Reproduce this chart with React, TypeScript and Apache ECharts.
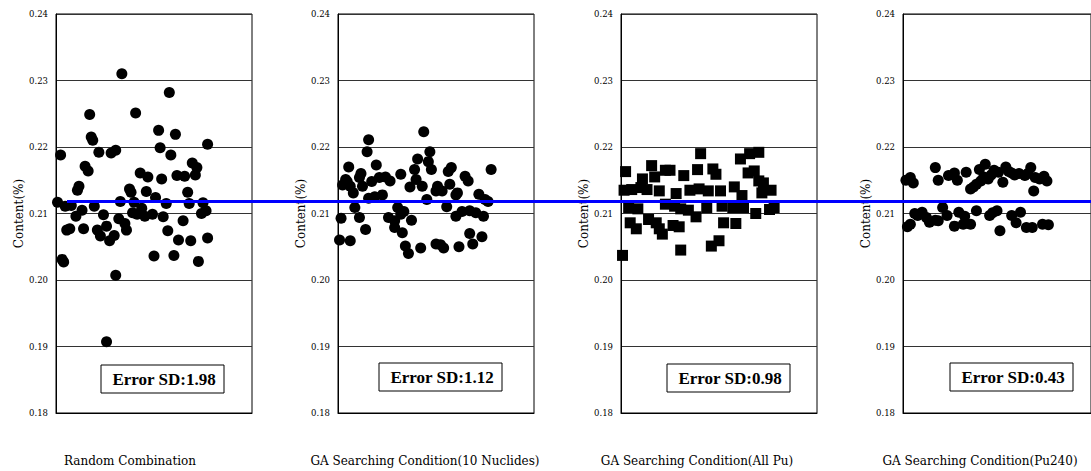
import React, { useEffect, useRef } from "react";
import * as echarts from "echarts";

// ---------- data ----------
const panelNames = [
  "Random Combination",
  "GA Searching Condition(10 Nuclides)",
  "GA Searching Condition(All Pu)",
  "GA Searching Condition(Pu240)",
];
const errorSD = ["1.98", "1.12", "0.98", "0.43"];
const referenceValue = 0.2118;
const yMin = 0.18;
const yMax = 0.24;
const yStep = 0.01;

const randomCombination: number[][] = [
  [43, 0.231], [74, 0.2282], [22, 0.2249], [52, 0.2251], [67, 0.2225], [78, 0.2219], [23, 0.2215], [24, 0.221],
  [99, 0.2204], [3, 0.2188], [28, 0.2192], [36, 0.2191], [39, 0.2195], [68, 0.2199], [75, 0.2188], [19, 0.2171],
  [21, 0.2164], [89, 0.2176], [92, 0.2169], [91, 0.2158], [55, 0.2161], [60, 0.2155], [69, 0.2152], [79, 0.2157],
  [84, 0.2156], [15, 0.2141], [14, 0.2135], [48, 0.2137], [49, 0.2132], [59, 0.2133], [86, 0.2132], [1, 0.2117],
  [6, 0.2111], [10, 0.2112], [42, 0.2118], [51, 0.2117], [65, 0.2124], [72, 0.2115], [96, 0.2116], [87, 0.2115],
  [25, 0.2111], [17, 0.2105], [13, 0.2096], [31, 0.2098], [50, 0.2101], [53, 0.2099], [58, 0.2096], [63, 0.2099],
  [56, 0.2108], [70, 0.2095], [95, 0.21], [98, 0.2104], [41, 0.2092], [45, 0.2085], [46, 0.2075], [83, 0.2089],
  [9, 0.2077], [7, 0.2075], [18, 0.2077], [27, 0.2075], [29, 0.2066], [33, 0.2081], [35, 0.2059], [38, 0.2067],
  [73, 0.2074], [80, 0.206], [88, 0.2059], [99, 0.2063], [4, 0.2031], [5, 0.2027], [64, 0.2036], [77, 0.2037],
  [93, 0.2028], [39, 0.2007], [33, 0.1907],
];

const gaTenNuclides: number[][] = [
  [56, 0.2223], [20, 0.2211], [19, 0.2193], [60, 0.2193], [52, 0.2182], [7, 0.217], [25, 0.2173], [59, 0.2178],
  [61, 0.2166], [50, 0.2166], [74, 0.2169], [72, 0.2163], [100, 0.2166], [15, 0.216], [14, 0.2154], [83, 0.2156],
  [85, 0.2149], [41, 0.2159], [27, 0.2154], [31, 0.2155], [34, 0.2149], [22, 0.2148], [5, 0.2151], [3, 0.2143],
  [8, 0.2141], [6, 0.2148], [10, 0.2131], [16, 0.2141], [47, 0.214], [55, 0.2141], [51, 0.2151], [65, 0.2141],
  [64, 0.2134], [68, 0.2134], [73, 0.2144], [77, 0.2128], [78, 0.2131], [92, 0.2129], [96, 0.2121], [98, 0.2118],
  [58, 0.2121], [20, 0.2123], [24, 0.2125], [29, 0.2128], [11, 0.2109], [14, 0.2094], [2, 0.2093], [71, 0.211],
  [39, 0.2109], [43, 0.2103], [33, 0.2094], [37, 0.2089], [41, 0.2099], [48, 0.209], [77, 0.2096], [81, 0.2103],
  [86, 0.2104], [90, 0.2101], [95, 0.2096], [18, 0.2076], [37, 0.2079], [42, 0.2071], [1, 0.206], [8, 0.2059],
  [86, 0.207], [94, 0.2065], [44, 0.2051], [46, 0.204], [54, 0.2048], [64, 0.2054], [67, 0.2053], [69, 0.2048],
  [79, 0.205], [88, 0.2054],
];

const gaAllPu: number[][] = [
  [52, 0.219], [78, 0.2182], [84, 0.219], [90, 0.2192], [20, 0.2172], [3, 0.2163], [29, 0.2165], [32, 0.2165],
  [14, 0.2152], [22, 0.2155], [41, 0.2157], [50, 0.2166], [60, 0.2167], [62, 0.2159], [83, 0.2161], [87, 0.2164],
  [90, 0.2149], [93, 0.2146], [2, 0.2135], [7, 0.2136], [13, 0.2139], [17, 0.2136], [25, 0.2134], [36, 0.213],
  [45, 0.2135], [51, 0.2137], [57, 0.2134], [65, 0.2134], [74, 0.214], [79, 0.2127], [92, 0.2131], [98, 0.2135],
  [5, 0.2109], [11, 0.2107], [29, 0.2114], [35, 0.2111], [39, 0.2107], [44, 0.2105], [49, 0.2095], [56, 0.2109],
  [66, 0.2111], [73, 0.2109], [80, 0.2109], [88, 0.21], [97, 0.2106], [100, 0.2109], [6, 0.2086], [10, 0.2077],
  [18, 0.2091], [23, 0.2086], [25, 0.2077], [27, 0.2069], [34, 0.2082], [38, 0.208], [67, 0.2086], [75, 0.2085],
  [39, 0.2045], [59, 0.2051], [64, 0.2059], [1, 0.2037],
];

const gaPu240: number[][] = [
  [5, 0.2154], [7, 0.2146], [2, 0.215], [22, 0.2169], [24, 0.215], [31, 0.2157], [35, 0.2161], [37, 0.215],
  [43, 0.2162], [46, 0.2137], [48, 0.214], [50, 0.2144], [53, 0.2149], [55, 0.2155], [58, 0.2152], [56, 0.2174],
  [52, 0.2166], [60, 0.2158], [62, 0.2165], [65, 0.2162], [70, 0.217], [68, 0.2147], [72, 0.2163], [74, 0.2161],
  [76, 0.2158], [79, 0.216], [83, 0.2157], [85, 0.216], [87, 0.2169], [90, 0.2154], [93, 0.2152], [96, 0.2156],
  [98, 0.2149], [89, 0.2134],
  [3, 0.208], [5, 0.2084], [8, 0.21], [10, 0.2097], [13, 0.2102], [16, 0.2094], [18, 0.2087], [22, 0.209],
  [24, 0.2089], [27, 0.2109], [30, 0.2097], [35, 0.2081], [38, 0.2102], [41, 0.2084], [42, 0.2096], [46, 0.2084],
  [50, 0.2104], [59, 0.2097], [61, 0.2101], [64, 0.2104], [66, 0.2074], [74, 0.2097], [77, 0.2086], [80, 0.2102],
  [84, 0.2079], [88, 0.2079], [95, 0.2084], [99, 0.2083],
];

const panelData = [randomCombination, gaTenNuclides, gaAllPu, gaPu240];
const panelSymbols = ["circle", "circle", "rect", "circle"];

// ---------- layout ----------
const panelLeft = [56, 338, 621, 903];
const panelWidth = 196;
const plotTop = 14;
const plotHeight = 399;
const boxX = [101, 379, 667, 950];
const boxY = [365, 363, 364, 363];
const labelX = [130, 425, 697, 980];

export default function App() {
  const ref = useRef<HTMLDivElement>(null);

  useEffect(() => {
    if (!ref.current) return;
    const chart = echarts.init(ref.current, undefined, { renderer: "svg" });

    const grids: any[] = panelLeft.map((l) => ({
      left: l,
      top: plotTop,
      width: panelWidth,
      height: plotHeight,
      show: true,
      borderColor: "#000",
      borderWidth: 1,
      backgroundColor: "transparent",
    }));
    grids.push({ left: 67, top: plotTop, width: 1091 - 67, height: plotHeight });

    const xAxes: any[] = panelLeft.map((_, i) => ({
      type: "value",
      gridIndex: i,
      min: 0,
      max: 128,
      axisLine: { show: true, lineStyle: { color: "#000", width: 1 } },
      axisTick: { show: false },
      axisLabel: { show: false },
      splitLine: { show: false },
    }));
    xAxes.push({ type: "value", gridIndex: 4, min: 0, max: 1, show: false });

    const yAxes: any[] = panelLeft.map((_, i) => ({
      type: "value",
      gridIndex: i,
      min: yMin,
      max: yMax,
      interval: yStep,
      name: "Content(%)",
      nameLocation: "middle",
      nameGap: i === 1 ? 29 : 31,
      nameTextStyle: { fontFamily: "DejaVu Serif", fontSize: 12, color: "#000" },
      axisLine: { show: true, lineStyle: { color: "#000", width: 1 } },
      axisTick: { show: false },
      axisLabel: {
        fontFamily: "DejaVu Serif",
        fontSize: 8.5,
        color: "#000",
        margin: 8,
        formatter: (v: number) => v.toFixed(2),
      },
      splitLine: { show: true, lineStyle: { color: "#333", width: 1 } },
    }));
    yAxes.push({ type: "value", gridIndex: 4, min: yMin, max: yMax, show: false });

    const series: any[] = panelData.map((d, i) => ({
      type: "scatter",
      xAxisIndex: i,
      yAxisIndex: i,
      data: d,
      symbol: panelSymbols[i],
      symbolSize: 11,
      itemStyle: { color: "#000", opacity: 1 },
      clip: false,
    }));
    series.push({
      type: "line",
      xAxisIndex: 4,
      yAxisIndex: 4,
      data: [
        [0, referenceValue],
        [1, referenceValue],
      ],
      symbol: "none",
      lineStyle: { color: "#0000ff", width: 3 },
      z: 10,
    });

    const graphic: any[] = [];
    panelLeft.forEach((_, i) => {
      graphic.push({
        type: "rect",
        shape: { x: boxX[i], y: boxY[i], width: 123, height: 28 },
        style: { fill: "#fff", stroke: "#000", lineWidth: 1 },
        z: 20,
      });
      graphic.push({
        type: "text",
        x: boxX[i] + 63,
        y: boxY[i] + 14,
        style: {
          text: "Error SD:" + errorSD[i],
          fontFamily: "Liberation Serif",
          fontWeight: "bold",
          fontSize: 17,
          fill: "#000",
          align: "center",
          verticalAlign: "middle",
        },
        z: 21,
      });
      graphic.push({
        type: "text",
        x: labelX[i],
        y: 461,
        style: {
          text: panelNames[i],
          fontFamily: "DejaVu Serif",
          fontSize: 12,
          fill: "#000",
          align: "center",
          verticalAlign: "middle",
        },
      });
    });

    chart.setOption({
      animation: false,
      backgroundColor: "#fff",
      grid: grids,
      xAxis: xAxes,
      yAxis: yAxes,
      series,
      graphic,
    });

    return () => chart.dispose();
  }, []);

  return (
    <div
      ref={ref}
      style={{ position: "fixed", left: 0, top: 0, width: 1091, height: 471, background: "#fff" }}
    />
  );
}
